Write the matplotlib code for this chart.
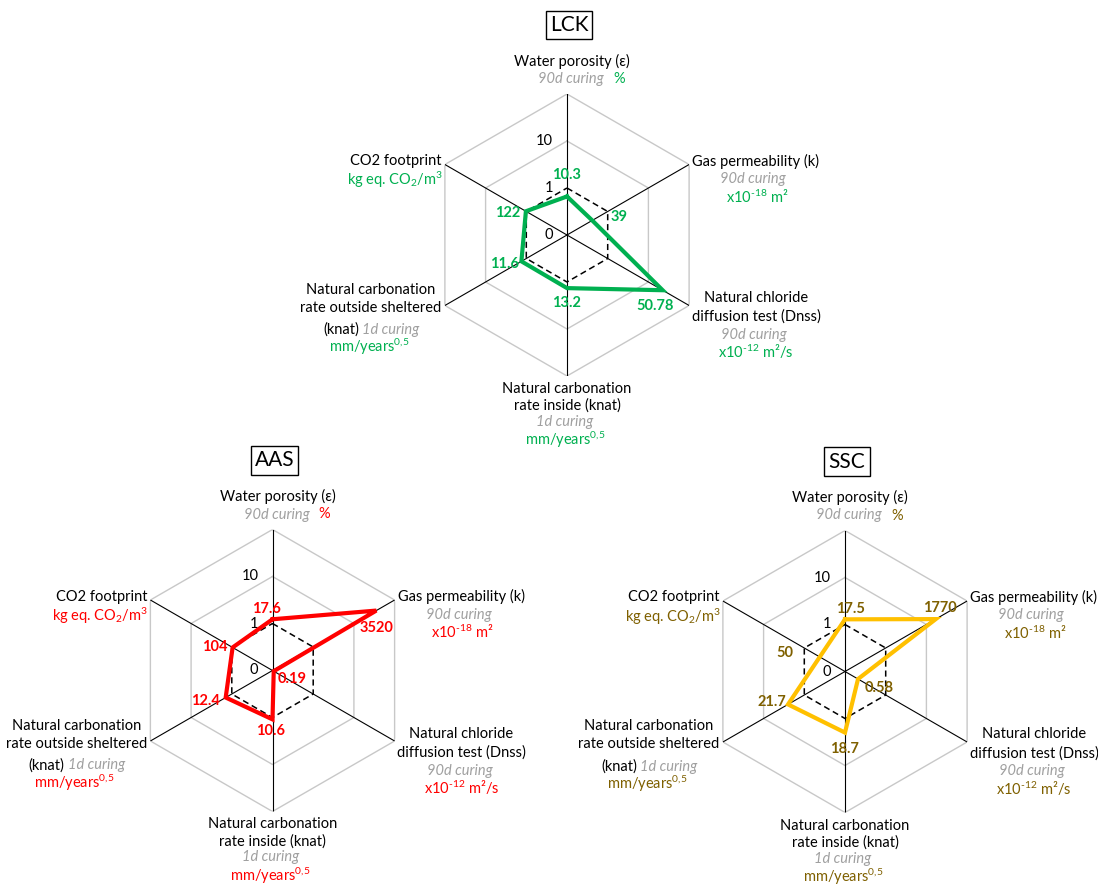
import numpy as np
import matplotlib
matplotlib.use('Agg')
import matplotlib.pyplot as plt

plt.rcParams['font.family'] = ['Lato', 'DejaVu Sans']
plt.rcParams['mathtext.fontset'] = 'custom'
plt.rcParams['mathtext.rm'] = 'Lato'
plt.rcParams['mathtext.it'] = 'Lato:italic'
plt.rcParams['mathtext.bf'] = 'Lato:bold'

# radar axes, clockwise from the top
axis_keys = ['water', 'gas', 'chloride', 'inside', 'outside', 'co2']

# radial position of each point in grid steps (centre=0, dashed ring=1, "10" ring=2, outer=3)
lck_pos = [0.82, 0.62, 2.35, 1.13, 1.12, 1.01]
aas_pos = [1.09, 2.55, 0.03, 1.04, 1.15, 0.98]
ssc_pos = [1.11, 2.23, 0.32, 1.30, 1.40, 0.62]

# printed values
lck_vals = ['10.3', '39', '50.78', '13.2', '11.6', '122']
aas_vals = ['17.6', '3520', '0.19', '10.6', '12.4', '104']
ssc_vals = ['17.5', '1770', '0.58', '18.7', '21.7', '50']

ring_steps = [0, 1, 2]
ring_labels = ['0', '1', '10']

W, H = 1098, 886
R = 141  # pixel radius of the outer hexagon

# offsets of the value labels from their points (pixels, y down)
lck_off = [(0, -21), (27, -3), (-8, 16), (-1, 15), (-17, 3), (-18, 2)]
aas_off = [(-6, -10), (0, 17), (18, 8), (-2, 12), (-20, 3), (-18, 0)]
ssc_off = [(5, -10), (4, -11), (21, 9), (-1, 16), (-16, -2), (-35, -4)]

GRAY_TXT = '#A0A0A0'

# axis caption lines: dx, dy (pixels from centre, y down), text, kind, ha
captions = [
    (5, -174, 'Water porosity (ε)', 'title', 'center'),
    (4, -156, '90d curing', 'cure', 'center'),
    (52, -156, '%', 'unit', 'center'),
    (189, -74, 'Gas permeability (k)', 'title', 'center'),
    (186, -56, '90d curing', 'cure', 'center'),
    (190, -38, r'x10$^{\text{-18}}$ m²', 'unit', 'center'),
    (189, 63, 'Natural chloride', 'title', 'center'),
    (189, 82, 'diffusion test (Dnss)', 'title', 'center'),
    (187, 100, '90d curing', 'cure', 'center'),
    (189, 117, r'x10$^{\text{-12}}$ m²/s', 'unit', 'center'),
    (0, 154, 'Natural carbonation', 'title', 'center'),
    (0, 171, 'rate inside (knat)', 'title', 'center'),
    (-2, 187, '1d curing', 'cure', 'center'),
    (-2, 205, r'mm/years$^{\text{0,5}}$', 'unit', 'center'),
    (-196, 55, 'Natural carbonation', 'title', 'center'),
    (-196, 73, 'rate outside sheltered', 'title', 'center'),
    (-208, 95, '(knat)', 'title', 'right'),
    (-205, 95, '1d curing', 'cure', 'left'),
    (-198, 112, r'mm/years$^{\text{0,5}}$', 'unit', 'center'),
    (-171, -74, 'CO2 footprint', 'title', 'center'),
    (-172, -55, r'kg eq. CO$_{\text{2}}$/m$^{\text{3}}$', 'unit', 'center'),
]

charts = [
    ('LCK', (567, 235), lck_pos, lck_vals, lck_off, '#00B050', '#00B050'),
    ('AAS', (272.5, 670.5), aas_pos, aas_vals, aas_off, '#FF0000', '#FF0000'),
    ('SSC', (845, 671.5), ssc_pos, ssc_vals, ssc_off, '#FFC000', '#7F6000'),
]

theta = np.deg2rad(np.arange(0, 360, 60))
theta_closed = np.append(theta, theta[0])

fig = plt.figure(figsize=(W / 100, H / 100), dpi=100)

for name, (cx, cy), pos, vals, offs, line_col, txt_col in charts:
    ax = fig.add_axes([(cx - R) / W, (H - cy - R) / H, 2 * R / W, 2 * R / H], projection='polar')
    ax.set_theta_zero_location('N')
    ax.set_theta_direction(-1)
    ax.set_ylim(0, 3)
    ax.set_axis_off()

    # grid
    for lev in [2, 3]:
        ax.plot(theta_closed, [lev] * 7, color='#C8C8C8', lw=1, zorder=1)
    for t in theta:
        ax.plot([t, t], [0, 3], color='black', lw=0.8, zorder=2)
    ax.plot(theta_closed, [1] * 7, color='black', lw=1.1, ls=(0, (4, 2.5)), zorder=3)

    # data
    p = list(pos) + [pos[0]]
    ax.plot(theta_closed, p, color=line_col, lw=3, zorder=4, solid_joinstyle='miter')

    for t, r, v, (dx, dy) in zip(theta, pos, vals, offs):
        ax.annotate(v, xy=(t, r), xytext=(dx, -dy), textcoords='offset pixels',
                    ha='center', va='center', fontsize=10.5, fontweight='bold',
                    color=txt_col, zorder=6)

    for lev, lab in zip(ring_steps, ring_labels):
        ax.annotate(lab, xy=(0, lev), xytext=(-14, 0), textcoords='offset pixels',
                    ha='right', va='center', fontsize=10.5, color='black')

    for dx, dy, s, kind, ha in captions:
        kw = dict(color='black')
        if kind == 'cure':
            kw = dict(color=GRAY_TXT, style='italic')
        elif kind == 'unit':
            kw = dict(color=txt_col)
        ax.annotate(s, xy=(0, 0), xytext=(dx, -dy), textcoords='offset pixels',
                    ha=ha, va='center', fontsize=10.5, annotation_clip=False, **kw)

    ax.annotate(name, xy=(0, 0), xytext=(2, 210), textcoords='offset pixels',
                ha='center', va='center', fontsize=15, annotation_clip=False,
                bbox=dict(boxstyle='square,pad=0.2', fc='white', ec='black', lw=1))

fig.savefig('out.png', dpi=100)
